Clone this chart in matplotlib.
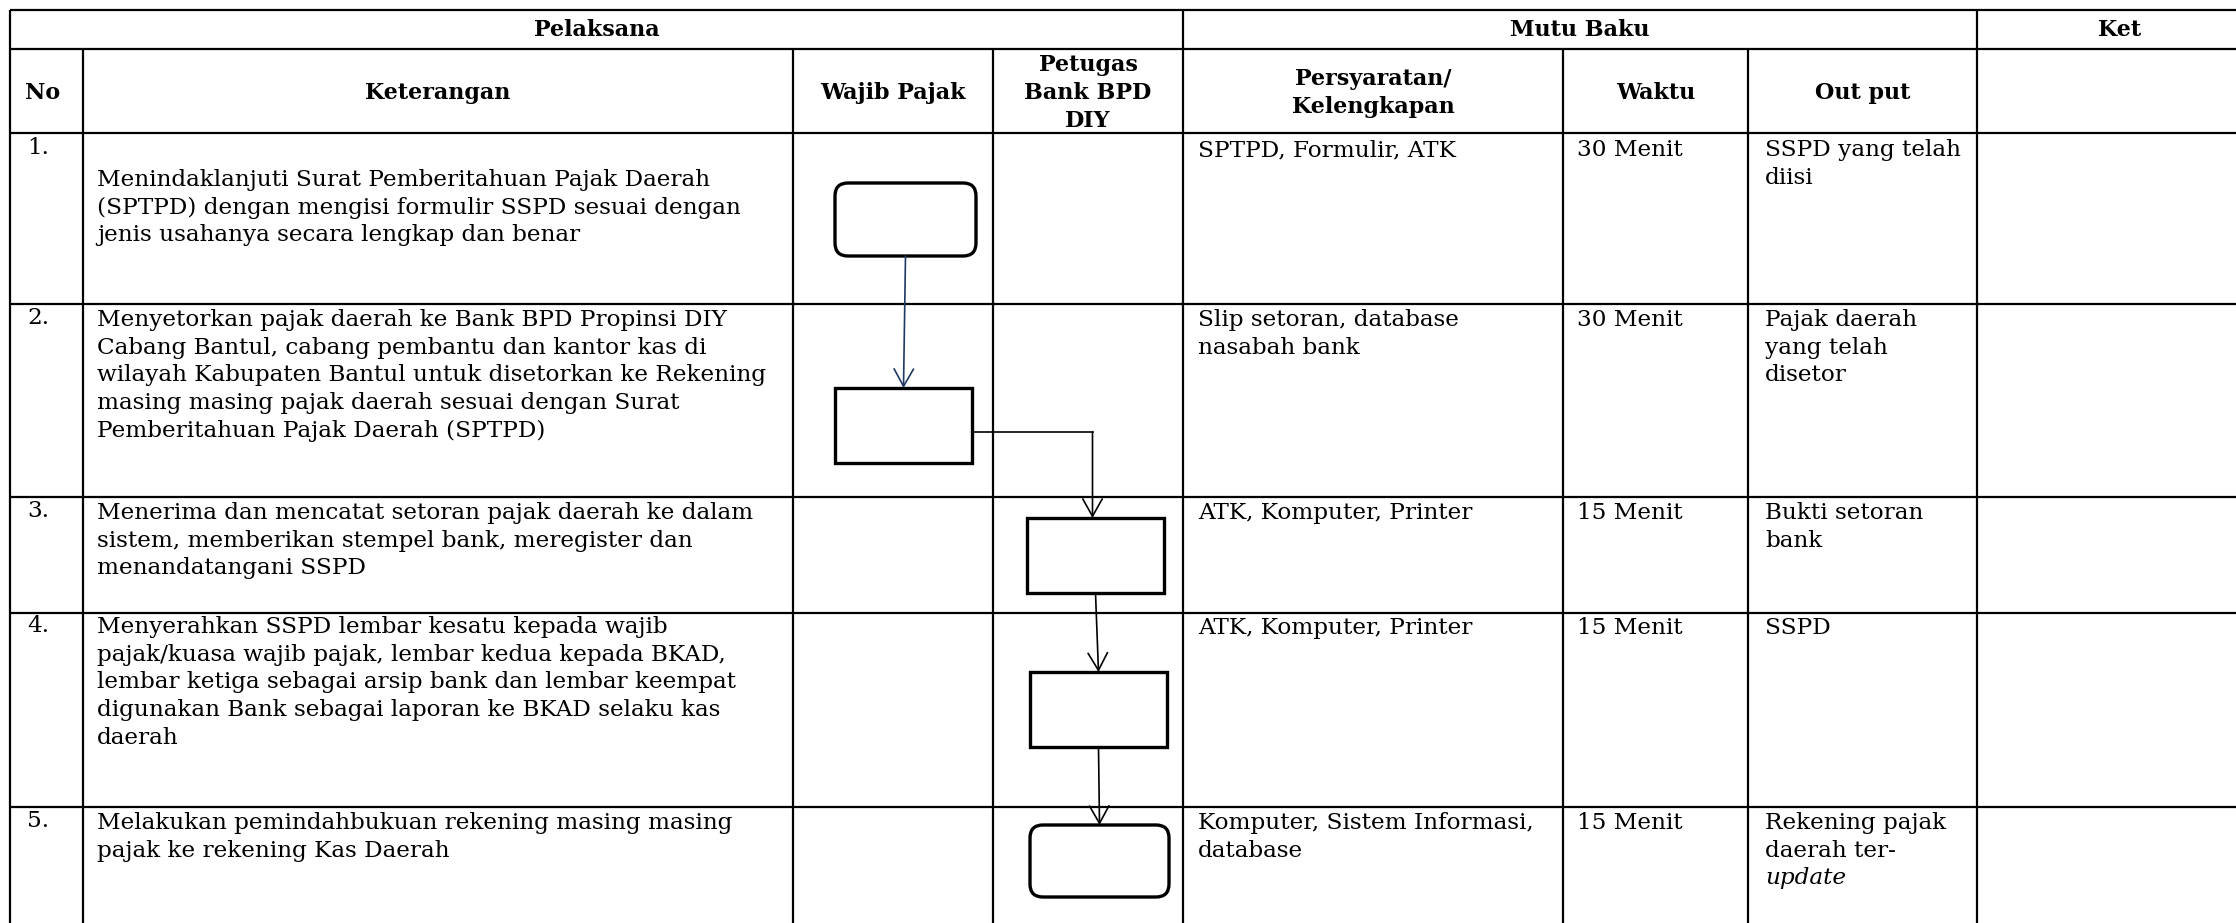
import matplotlib
matplotlib.use("Agg")
import matplotlib.pyplot as plt
from matplotlib.patches import FancyBboxPatch, Rectangle

plt.rcParams["font.family"] = ["DejaVu Serif"]

# ---- table content ----
group_headers = ["Pelaksana", "Mutu Baku", "Ket"]
col_headers = ["No", "Keterangan", "Wajib Pajak", "Petugas\nBank BPD\nDIY",
               "Persyaratan/\nKelengkapan", "Waktu", "Out put"]
nomor = ["1.", "2.", "3.", "4.", "5."]
keterangan = [
    "Menindaklanjuti Surat Pemberitahuan Pajak Daerah\n(SPTPD) dengan mengisi formulir SSPD sesuai dengan\njenis usahanya secara lengkap dan benar",
    "Menyetorkan pajak daerah ke Bank BPD Propinsi DIY\nCabang Bantul, cabang pembantu dan kantor kas di\nwilayah Kabupaten Bantul untuk disetorkan ke Rekening\nmasing masing pajak daerah sesuai dengan Surat\nPemberitahuan Pajak Daerah (SPTPD)",
    "Menerima dan mencatat setoran pajak daerah ke dalam\nsistem, memberikan stempel bank, meregister dan\nmenandatangani SSPD",
    "Menyerahkan SSPD lembar kesatu kepada wajib\npajak/kuasa wajib pajak, lembar kedua kepada BKAD,\nlembar ketiga sebagai arsip bank dan lembar keempat\ndigunakan Bank sebagai laporan ke BKAD selaku kas\ndaerah",
    "Melakukan pemindahbukuan rekening masing masing\npajak ke rekening Kas Daerah",
]
persyaratan = [
    "SPTPD, Formulir, ATK",
    "Slip setoran, database\nnasabah bank",
    "ATK, Komputer, Printer",
    "ATK, Komputer, Printer",
    "Komputer, Sistem Informasi,\ndatabase",
]
waktu = ["30 Menit", "30 Menit", "15 Menit", "15 Menit", "15 Menit"]
output = [
    "SSPD yang telah\ndiisi",
    "Pajak daerah\nyang telah\ndisetor",
    "Bukti setoran\nbank",
    "SSPD",
    "Rekening pajak\ndaerah ter-\nupdate",
]
italic_words = {"update"}
# which lane each step sits in (0 = Wajib Pajak, 1 = Petugas Bank) and its shape
step_lane = [0, 0, 1, 1, 1]
step_shape = ["round", "rect", "rect", "rect", "round"]

# ---- layout (pixels) ----
W, H = 2236, 923
col_x = [10, 83, 793, 993, 1183, 1563, 1748, 1977]
y_top, y_h1, y_h2 = 10, 49, 133
row_y = [133, 304, 497, 613, 807, 923]
first_line = [150, 320, 513, 628, 823]
ket_first = [180, 320, 513, 627, 823]
LINE = 27.7
FS_HEAD = 16
FS = 16.7
pad = 15
box_xy = [(835, 183, 141, 73), (835, 388, 137, 75), (1027, 518, 137, 75),
          (1030, 672, 137, 75), (1030, 825, 139, 72)]
arrow_col = ["#1f3864", "black", "black", "black"]

fig = plt.figure(figsize=(W / 100, H / 100), dpi=100)
ax = fig.add_axes([0, 0, 1, 1])
ax.set_xlim(0, W)
ax.set_ylim(H, 0)
ax.axis("off")

TLW = 1.6
# horizontal rules
for y in [y_top, y_h1, y_h2] + row_y[1:-1]:
    ax.plot([col_x[0], W], [y, y], color="black", lw=TLW, solid_capstyle="butt")
# vertical rules
for i, x in enumerate(col_x):
    y0 = y_top if i in (0, 4, 7) else y_h1
    ax.plot([x, x], [y0, H], color="black", lw=TLW, solid_capstyle="butt")


def lines_at(x, y0, text, ha="left", weight="normal", fs=FS):
    for i, ln in enumerate(text.split("\n")):
        style = "italic" if ln in italic_words else "normal"
        ax.text(x, y0 + i * LINE, ln, ha=ha, va="center", fontsize=fs,
                fontweight=weight, style=style)


# group headers
mid_h1 = (y_top + y_h1) / 2
ax.text((col_x[0] + col_x[4]) / 2, mid_h1, group_headers[0], ha="center", va="center",
        fontsize=FS_HEAD, fontweight="bold")
ax.text((col_x[4] + col_x[7]) / 2, mid_h1, group_headers[1], ha="center", va="center",
        fontsize=FS_HEAD, fontweight="bold")
ax.text(2120, mid_h1, group_headers[2], ha="center", va="center",
        fontsize=FS_HEAD, fontweight="bold")

# column headers
mid_h2 = (y_h1 + y_h2) / 2 + 2
ax.text(col_x[0] + pad, mid_h2, col_headers[0], ha="left", va="center",
        fontsize=FS_HEAD, fontweight="bold")
for j, lab in enumerate(col_headers[1:], start=1):
    n = lab.count("\n")
    cx = (col_x[j] + col_x[j + 1]) / 2
    lines_at(cx, mid_h2 - n * LINE / 2, lab, ha="center", weight="bold", fs=FS_HEAD)

# body rows
for r in range(len(nomor)):
    lines_at(col_x[0] + 17, first_line[r] - 2, nomor[r])
    lines_at(col_x[1] + 14, ket_first[r], keterangan[r])
    lines_at(col_x[4] + 15, first_line[r], persyaratan[r])
    lines_at(col_x[5] + 14, first_line[r], waktu[r])
    lines_at(col_x[6] + 17, first_line[r], output[r])

# flowchart shapes
for (x, y, w, h), shp in zip(box_xy, step_shape):
    if shp == "round":
        p = FancyBboxPatch((x, y), w, h, boxstyle="round,pad=0,rounding_size=13",
                           fc="white", ec="black", lw=2.4)
    else:
        p = Rectangle((x, y), w, h, fc="white", ec="black", lw=2.4)
    ax.add_patch(p)

aprops = dict(arrowstyle="->,head_length=1.25,head_width=0.7", lw=1.2,
              shrinkA=0, shrinkB=0)
for k in range(len(box_xy) - 1):
    x0, y0, w0, h0 = box_xy[k]
    x1, y1, w1, h1 = box_xy[k + 1]
    c = arrow_col[k]
    if step_lane[k] == step_lane[k + 1]:
        ax.annotate("", xy=(x1 + w1 / 2, y1), xytext=(x0 + w0 / 2, y0 + h0),
                    arrowprops=dict(aprops, color=c))
    else:
        ey = y0 + h0 * 0.59
        ex = x1 + w1 / 2 - 3
        ax.plot([x0 + w0, ex], [ey, ey], color=c, lw=1.2)
        ax.annotate("", xy=(ex, y1), xytext=(ex, ey),
                    arrowprops=dict(aprops, color=c))

fig.savefig("out.png", dpi=100, facecolor="white")
